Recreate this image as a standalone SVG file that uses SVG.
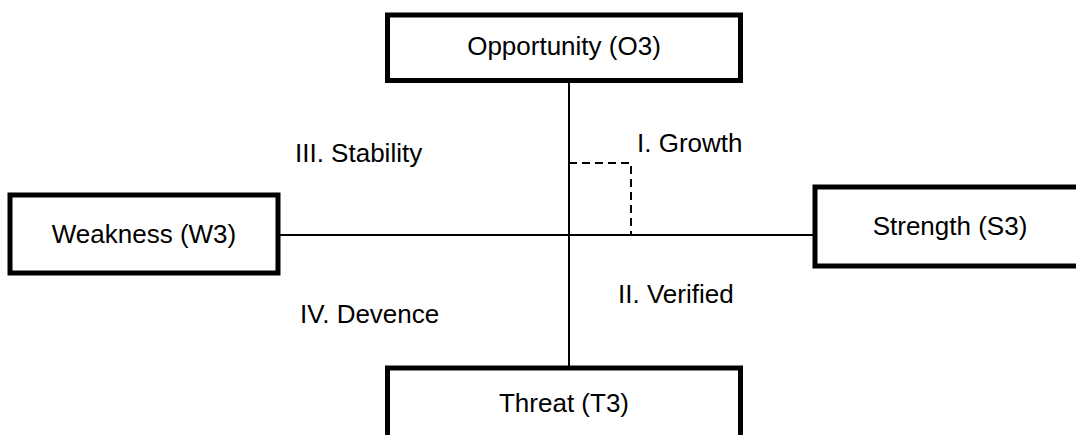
<svg xmlns="http://www.w3.org/2000/svg" width="1076" height="435" viewBox="0 0 1076 435">
<style>
.box{fill:#fff;stroke:#000;stroke-width:5}
.t{font-family:"Liberation Sans",Arial,sans-serif;font-size:26px;fill:#000}
.c{text-anchor:middle}
.ln{stroke:#000;stroke-width:2;fill:none}
.dash{stroke:#000;stroke-width:2;fill:none;stroke-dasharray:8 5}
</style>
<rect width="1076" height="435" fill="#fff"/>
<g id="connectors">
<line class="ln" x1="569" y1="80" x2="569" y2="368"/>
<line class="ln" x1="278" y1="235" x2="815" y2="235"/>
<polyline class="dash" points="569,163 631,163 631,235"/>
</g>
<g id="opportunity">
<rect class="box" x="387.5" y="15" width="353" height="65.5"/>
<text class="t c" x="564" y="55">Opportunity (O3)</text>
</g>
<g id="weakness">
<rect class="box" x="10" y="195" width="268" height="78"/>
<text class="t c" x="144" y="243">Weakness (W3)</text>
</g>
<g id="strength">
<rect class="box" x="815" y="187" width="268" height="79"/>
<text class="t c" x="950" y="235">Strength (S3)</text>
</g>
<g id="threat">
<rect class="box" x="387.5" y="368" width="353" height="70"/>
<text class="t c" x="564" y="412">Threat (T3)</text>
</g>
<g id="labels">
<text class="t" x="637" y="152">I. Growth</text>
<text class="t" x="295" y="162">III. Stability</text>
<text class="t" x="618" y="303">II. Verified</text>
<text class="t" x="300" y="323">IV. Devence</text>
</g>
</svg>
